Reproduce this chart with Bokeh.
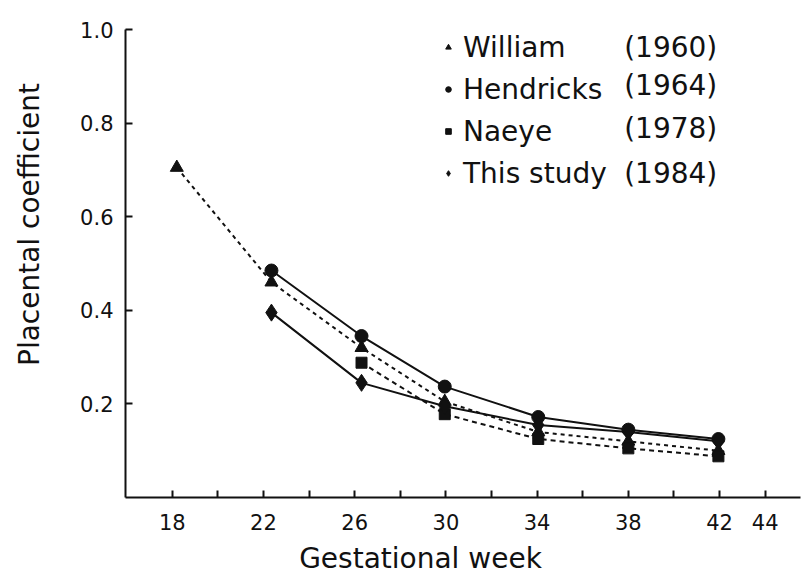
import math
from bokeh.plotting import figure
from bokeh.layouts import row, column
from bokeh.models import Range1d, FixedTicker, Label, Legend, LegendItem
from bokeh.core.properties import value
from bokeh.embed import file_html
from bokeh.resources import INLINE

# ---- data ----
weeks = [18.2, 22.35, 26.3, 29.95, 34.05, 38.0, 41.95]
william = [0.705, 0.46, 0.32, 0.205, 0.14, 0.12, 0.10]          # weeks[0:]
hendricks = [0.485, 0.345, 0.237, 0.172, 0.145, 0.125]         # weeks[1:]
naeye = [0.288, 0.178, 0.125, 0.105, 0.088]                     # weeks[2:]
this_study = [0.395, 0.245, 0.195, 0.155, 0.14, 0.12]          # weeks[1:]

series_names = ["William", "Hendricks", "Naeye", "This study"]
series_years = ["(1960)", "(1964)", "(1978)", "(1984)"]
x_ticks = [18, 20, 22, 24, 26, 28, 30, 32, 34, 36, 38, 40, 42, 44]
x_tick_labels = {18: "18", 22: "22", 26: "26", 30: "30", 34: "34", 38: "38", 42: "42", 44: "44"}
y_ticks = [0.2, 0.4, 0.6, 0.8, 1.0]
y_tick_labels = {0.2: "0.2", 0.4: "0.4", 0.6: "0.6", 0.8: "0.8", 1.0: "1.0"}
x_title = "Gestational week"
y_title = "Placental coefficient"

FONT = "DejaVu Sans"
INK = "#111111"
W = 802
TOP_H = 540      # height of the row holding the plot
BOT_H = 40       # strip below holding the x-axis title
LAB_W = 60       # strip at the left holding the y-axis title


def blank_strip(w, h):
    f = figure(width=w, height=h, output_backend="svg", toolbar_location=None,
               x_range=Range1d(0, w), y_range=Range1d(0, h),
               min_border=0, x_axis_location=None, y_axis_location=None)
    f.outline_line_color = None
    f.grid.visible = False
    return f


# ---- strip holding the rotated y-axis title ----
lab = blank_strip(LAB_W, TOP_H)
lab.text(x=[29], y=[TOP_H - 225], text=[y_title], angle=math.pi / 2,
         text_align="center", text_baseline="middle",
         text_font=value(FONT), text_font_size="28px", text_color=INK)

# ---- strip holding the x-axis title ----
bot = blank_strip(W, BOT_H)
bot.text(x=[420], y=[BOT_H - 18], text=[x_title],
         text_align="center", text_baseline="middle",
         text_font=value(FONT), text_font_size="28px", text_color=INK)

# ---- main plot ----
p = figure(width=W - LAB_W, height=TOP_H, output_backend="svg", toolbar_location=None,
           x_range=Range1d(15.95, 45.55), y_range=Range1d(0.0, 1.0),
           min_border_left=65, min_border_right=2, min_border_top=29,
           min_border_bottom=TOP_H - 497)
p.outline_line_color = None
p.grid.visible = False
p.background_fill_color = "white"
p.border_fill_color = "white"

for ax in (p.xaxis[0], p.yaxis[0]):
    ax.axis_line_width = 2
    ax.axis_line_color = INK
    ax.major_tick_in = 7
    ax.major_tick_out = 0
    ax.major_tick_line_width = 2
    ax.major_tick_line_color = INK
    ax.minor_tick_line_color = None
    ax.major_label_text_font = FONT
    ax.major_label_text_font_size = "21px"
    ax.major_label_text_color = INK

p.xaxis[0].ticker = FixedTicker(ticks=x_ticks)
p.xaxis[0].major_label_overrides = {t: x_tick_labels.get(t, "") for t in x_ticks}
p.xaxis[0].major_label_standoff = 16
p.yaxis[0].ticker = FixedTicker(ticks=y_ticks)
p.yaxis[0].major_label_overrides = y_tick_labels
p.yaxis[0].major_label_standoff = 12

# ---- lines ----
p.line(weeks, william, line_color=INK, line_width=2, line_dash="4 4")
p.line(weeks[2:], naeye, line_color=INK, line_width=2, line_dash="5 4")
p.line(weeks[1:], hendricks, line_color=INK, line_width=2)
p.line(weeks[1:], this_study, line_color=INK, line_width=2)

# ---- markers ----
r_w = p.scatter(weeks, william, marker="triangle", size=13, color=INK)
r_h = p.scatter(weeks[1:], hendricks, marker="circle", size=13, color=INK)
r_n = p.scatter(weeks[2:], naeye, marker="square", size=11, color=INK)
r_t = p.scatter(weeks[1:], this_study, marker="diamond", size=17, color=INK)

legend = Legend(items=[LegendItem(label=n, renderers=[r]) for n, r in
                       zip(series_names, [r_w, r_h, r_n, r_t])],
                location=(316, 306), orientation="vertical",
                glyph_width=14, glyph_height=36, label_height=36, label_standoff=8,
                spacing=6, padding=0, margin=0,
                border_line_color=None, background_fill_alpha=0,
                label_text_font=FONT, label_text_font_size="28px",
                label_text_color=INK, label_text_baseline="middle")
p.add_layout(legend)

year_y = [0.961, 0.880, 0.788, 0.692]
for yr, yy in zip(series_years, year_y):
    p.add_layout(Label(x=41.9, y=yy, text=yr, text_align="right", text_baseline="middle",
                       text_font=FONT, text_font_size="28px", text_color=INK))

layout = column(row(lab, p), bot)
open("out.html", "w").write(file_html(layout, INLINE))
